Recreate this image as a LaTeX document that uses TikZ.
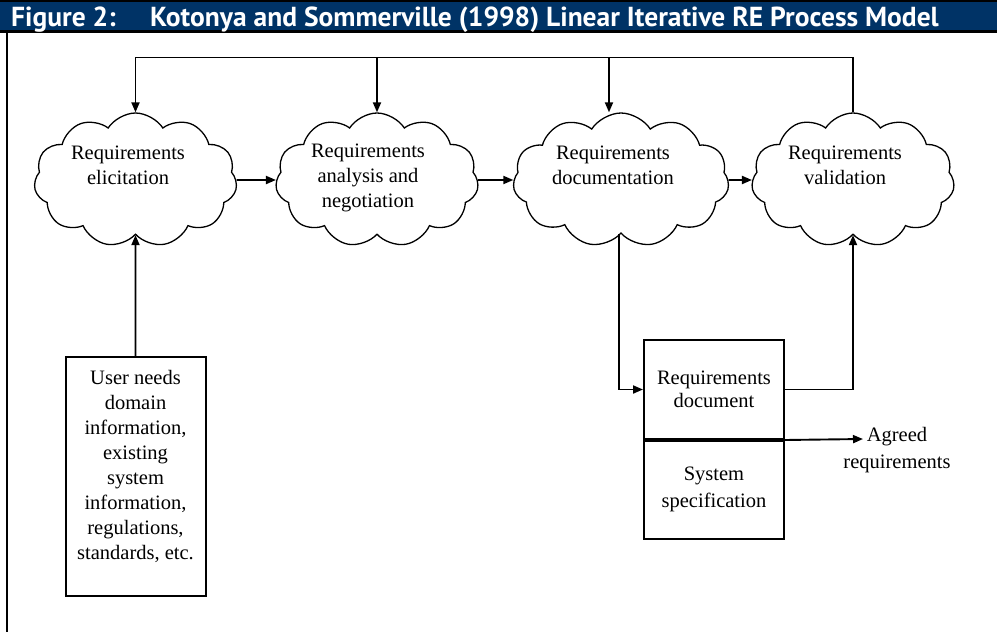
\documentclass[tikz,border=0pt]{standalone}
\usepackage{fontspec}
\setmainfont{Liberation Serif}
\newfontfamily\titlefont{PT Sans}
\usetikzlibrary{shapes.symbols,arrows.meta}
\definecolor{headnavy}{RGB}{0,51,102}
\begin{document}
\begin{tikzpicture}[x=1pt,y=-1pt,
  cloudbox/.style={cloud, cloud puffs=11, cloud puff arc=115, cloud ignores aspect,
    draw, line width=1.3pt, minimum width=203pt, minimum height=134pt, inner sep=0pt},
  bodytext/.style={align=center, inner sep=0pt, font=\fontsize{20.5}{25}\selectfont},
  box/.style={draw, line width=2pt, minimum width=140pt, inner sep=0pt},
  flow/.style={line width=1.9pt, -{Triangle[length=10pt,width=8pt]}},
  titletext/.style={anchor=base west, text=white, inner sep=0pt,
    font=\titlefont\bfseries\fontsize{27.5}{30}\selectfont},
  ]
\useasboundingbox (0,0) rectangle (997,632);

% heading bar and frame
\fill[headnavy] (0,0) rectangle (997,32);
\draw[line width=2pt] (0,1) -- (997,1);
\draw[line width=3pt] (0,31.5) -- (997,31.5);
\draw[line width=1.5pt] (7,33) -- (7,632);
\node[titletext] (fig) at (11,26) {Figure 2:};
\node[titletext] (title) at (150,26) {Kotonya and Sommerville (1998) Linear Iterative RE Process Model};

% process stages
\node[cloudbox] (c1) at (135.5,180) {};
\node[cloudbox] (c2) at (377,180) {};
\node[cloudbox, minimum width=216pt] (c3) at (621,180) {};
\node[cloudbox] (c4) at (853,180) {};

\node[bodytext] (t1) at (128,165) {Requirements\\elicitation};
\node[bodytext] (t2) at (368,178) {Requirements\\analysis and\\negotiation};
\node[bodytext] (t3) at (613,165) {Requirements\\documentation};
\node[bodytext] (t4) at (845,165) {Requirements\\validation};

\draw[flow] (c1.east) -- (c2.west);
\draw[flow] (c2.east) -- (c3.west);
\draw[flow] (c3.east) -- (c4.west);

% iteration loop back from validation
\coordinate (topline) at (0,57.5);
\coordinate (c3top) at ([xshift=-12pt]c3.north);
\coordinate (c3bot) at ([xshift=-2pt]c3.south);
\draw[flow] (c4.north) -- (c4.north |- topline) -| (c1.north);
\draw[flow] (c2.north |- topline) -- (c2.north);
\draw[flow] (c3top |- topline) -- (c3top);

% inputs
\node[box, minimum height=239pt] (ub) at (135.5,476.5) {};
\node[bodytext] (ubt) at (135.5,466) {User needs\\domain\\information,\\existing\\system\\information,\\regulations,\\standards, etc.};
\draw[flow] (ub.north) -- (c1.south);

% outputs
\node[box, minimum height=99pt, bodytext, font=\fontsize{20.5}{23}\selectfont] (rd) at (714,389.5) {Requirements\\document};
\node[box, minimum height=100pt, bodytext, font=\fontsize{20.5}{27}\selectfont] (ss) at (714,489) {System\\specification};
\draw[line width=4pt] (rd.south west) -- (rd.south east);
\draw[flow] (c3bot) |- (rd.west);
\draw[flow] (rd.east) -| (c4.south);

\coordinate (agreedtip) at (863,439);
\draw[flow] (rd.south east) -- (agreedtip);
\node[bodytext, font=\fontsize{20.5}{27}\selectfont] (agreed) at (897,450) {Agreed\\requirements};
\end{tikzpicture}
\end{document}
